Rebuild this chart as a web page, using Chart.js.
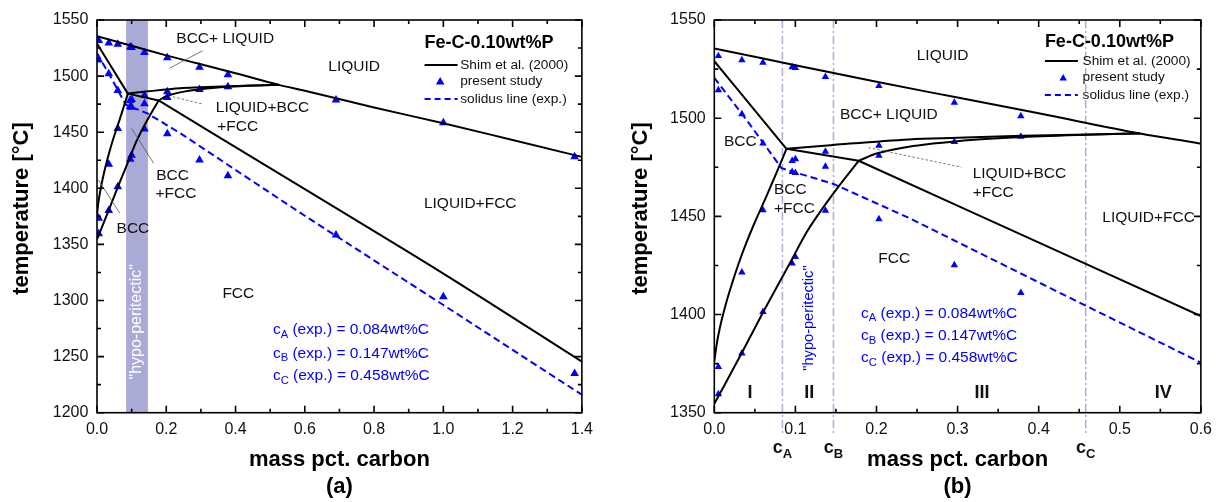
<!DOCTYPE html>
<html>
<head>
<meta charset="utf-8">
<script src="https://cdn.jsdelivr.net/npm/chart.js@4.4.0/dist/chart.umd.min.js"></script>
<style>
  html, body { margin: 0; padding: 0; background: #fff; }
  #wrap { position: relative; width: 1219px; height: 502px; overflow: hidden; }
  #ca { position: absolute; left: 0; top: 0; }
  #cb { position: absolute; left: 600px; top: 0; }
</style>
</head>
<body>
<div id="wrap">
  <canvas id="ca" width="600" height="502"></canvas>
  <canvas id="cb" width="619" height="502"></canvas>
</div>
<script>
// ---------- phase boundaries (mass pct. C, temperature in °C) ----------
const liquidusC = [0, 0.1, 0.2, 0.3, 0.4, 0.525, 0.6, 0.8, 1.0, 1.2, 1.4];
const liquidusT = [1535.5, 1527, 1518.5, 1510.5, 1502.5, 1492.2, 1487, 1472, 1458, 1443, 1428];

const deltaSolidusC = [0, 0.089];
const deltaSolidusT = [1529, 1484.4];

const threePhaseUpperC = [0.089, 0.147, 0.24, 0.30, 0.38, 0.46, 0.525];
const threePhaseUpperT = [1484.4, 1486.4, 1489.2, 1490, 1491, 1491.7, 1492.2];

const threePhaseLowerC = [0.178, 0.2, 0.24, 0.30, 0.38, 0.46, 0.525];
const threePhaseLowerT = [1478.3, 1482, 1485.5, 1488.3, 1490.4, 1491.6, 1492.2];

const peritecticC = [0.089, 0.178];
const peritecticT = [1484.4, 1478.3];

const fccSolidusC = [0.178, 0.6, 1.0, 1.4];
const fccSolidusT = [1478.3, 1399.2, 1324, 1245.5];

const deltaBoundaryC = [0, 0.003, 0.007, 0.014, 0.022, 0.030, 0.039, 0.050, 0.063, 0.076, 0.089];
const deltaBoundaryT = [1376, 1385, 1393.5, 1405, 1416, 1426, 1436, 1447, 1459, 1471.5, 1484.4];

const gammaBoundaryC = [0, 0.034, 0.060, 0.093, 0.114, 0.130, 0.151, 0.178];
const gammaBoundaryT = [1354.5, 1380.5, 1401, 1426, 1442, 1452, 1464, 1478.3];

// experimental solidus
const solidusExpC = [0, 0.04, 0.083, 0.147, 0.241, 0.458, 0.6, 1.0, 1.4];
const solidusExpT = [1520.5, 1499, 1474.5, 1466.5, 1449, 1404.5, 1375.5, 1296, 1216];

// measured transformation temperatures (present study)
const sampleC = [0.005, 0.005, 0.005, 0.005, 0.034, 0.034, 0.034, 0.034,
                 0.060, 0.060, 0.060, 0.060, 0.096, 0.096, 0.096, 0.096,
                 0.100, 0.100, 0.100, 0.100, 0.137, 0.137, 0.137, 0.137,
                 0.203, 0.203, 0.203, 0.203, 0.296, 0.296, 0.296,
                 0.378, 0.378, 0.378, 0.690, 0.690, 1.000, 1.000, 1.379, 1.379];
const sampleT = [1531.7, 1514.3, 1373.4, 1359.5, 1529.6, 1502.1, 1421.5, 1380.2,
                 1528.3, 1487.2, 1453.2, 1401.4, 1526.0, 1478.3, 1472.7, 1426.0,
                 1525.6, 1479.2, 1472.2, 1429.4, 1521.1, 1483.0, 1475.3, 1452.9,
                 1516.4, 1486.0, 1480.9, 1448.6, 1507.9, 1488.0, 1425.2,
                 1501.1, 1490.6, 1411.1, 1478.7, 1358.4, 1458.5, 1303.4, 1428.2, 1235.0];

// characteristic carbon contents
const criticalC = [0.084, 0.147, 0.458];
const criticalName = ['A', 'B', 'C'];

const regionNames = ['I', 'II', 'III', 'IV'];

// ---------- shared drawing helpers ----------
const FONT = "'Liberation Sans', Arial, Helvetica, sans-serif";
const BLUE = '#0000ff';
Chart.defaults.font.family = FONT;

function pts(cs, ts) { return cs.map((c, i) => ({ x: c, y: ts[i] })); }

function curve(label, cs, ts, extra) {
  return Object.assign({
    label, data: pts(cs, ts), showLine: true, pointRadius: 0, pointHoverRadius: 0,
    borderColor: '#000', borderWidth: 2, cubicInterpolationMode: 'monotone', fill: false
  }, extra || {});
}

function datasets(pointR) {
  return [
    curve('liquidus', liquidusC, liquidusT),
    curve('delta solidus', deltaSolidusC, deltaSolidusT),
    curve('L+BCC+FCC upper', threePhaseUpperC, threePhaseUpperT),
    curve('L+BCC+FCC lower', threePhaseLowerC, threePhaseLowerT),
    curve('peritectic', peritecticC, peritecticT),
    curve('FCC solidus', fccSolidusC, fccSolidusT),
    curve('BCC / BCC+FCC', deltaBoundaryC, deltaBoundaryT),
    curve('FCC / BCC+FCC', gammaBoundaryC, gammaBoundaryT),
    curve('solidus line (exp.)', solidusExpC, solidusExpT,
      { borderColor: BLUE, borderDash: [7, 4], cubicInterpolationMode: 'default', tension: 0 }),
    {
      label: 'present study', data: pts(sampleC, sampleT), showLine: false,
      pointStyle: 'triangle', pointRadius: pointR, pointHoverRadius: pointR,
      backgroundColor: BLUE, borderColor: BLUE, borderWidth: 0
    }
  ];
}

// text with optional subscript parts: strings or {sub: 'A'}
function drawRich(ctx, parts, x, y, size, weight, color, align) {
  const mainF = `${weight} ${size}px ${FONT}`;
  const subF = `${weight} ${(size * 0.72).toFixed(1)}px ${FONT}`;
  let total = 0;
  parts.forEach(p => {
    const s = typeof p === 'string' ? p : p.sub;
    ctx.font = typeof p === 'string' ? mainF : subF;
    total += ctx.measureText(s).width;
  });
  let cx = align === 'center' ? x - total / 2 : x;
  ctx.fillStyle = color;
  ctx.textAlign = 'left';
  ctx.textBaseline = 'middle';
  parts.forEach(p => {
    if (typeof p === 'string') {
      ctx.font = mainF; ctx.fillText(p, cx, y); cx += ctx.measureText(p).width;
    } else {
      ctx.font = subF; ctx.fillText(p.sub, cx, y + size * 0.32); cx += ctx.measureText(p.sub).width;
    }
  });
}

function triangle(ctx, x, y, r, color) {
  ctx.beginPath();
  for (let k = 0; k < 3; k++) {
    const a = k * 2 * Math.PI / 3;
    const px = x + Math.sin(a) * r, py = y - Math.cos(a) * r;
    k === 0 ? ctx.moveTo(px, py) : ctx.lineTo(px, py);
  }
  ctx.closePath();
  ctx.fillStyle = color;
  ctx.fill();
}

function criticalParts(i) {
  return ['c', { sub: criticalName[i] }, ' (exp.) = ' + criticalC[i].toFixed(3) + 'wt%C'];
}

// ---------- plugin: band, guides, labels, legend, frame ----------
const phaseDecor = {
  id: 'phaseDecor',
  beforeDatasetsDraw(chart, args, o) {
    const { ctx, chartArea: a, scales: { x, y } } = chart;
    ctx.save();
    if (o.band) {
      const x0 = x.getPixelForValue(criticalC[0]), x1 = x.getPixelForValue(criticalC[1]);
      ctx.fillStyle = o.band.color;
      ctx.fillRect(x0, a.top, x1 - x0, a.bottom - a.top);
    }
    if (o.hypo) {
      ctx.save();
      ctx.translate(x.getPixelForValue(o.hypo.c), y.getPixelForValue(o.hypo.t));
      ctx.rotate(-Math.PI / 2);
      ctx.font = `${o.hypo.size}px ${FONT}`;
      ctx.fillStyle = o.hypo.color;
      ctx.textAlign = 'center';
      ctx.textBaseline = 'middle';
      ctx.fillText('"hypo-peritectic"', 0, 0);
      ctx.restore();
    }
    if (o.guides) {
      ctx.strokeStyle = o.guides.color;
      ctx.lineWidth = 1.5;
      ctx.setLineDash([8, 3, 2, 3]);
      criticalC.forEach(c => {
        const px = x.getPixelForValue(c);
        ctx.beginPath();
        ctx.moveTo(px, a.top);
        ctx.lineTo(px, a.bottom + o.guides.extend);
        ctx.stroke();
      });
      ctx.setLineDash([]);
    }
    ctx.restore();
  },
  afterDatasetsDraw(chart, args, o) {
    const { ctx, chartArea: a, scales: { x, y } } = chart;
    ctx.save();
    // leader lines
    (o.leaders || []).forEach(l => {
      ctx.strokeStyle = '#555';
      ctx.lineWidth = 0.8;
      ctx.setLineDash(l.dash ? [2.5, 2] : []);
      ctx.beginPath();
      ctx.moveTo(x.getPixelForValue(l.from[0]), y.getPixelForValue(l.from[1]));
      ctx.lineTo(x.getPixelForValue(l.to[0]), y.getPixelForValue(l.to[1]));
      ctx.stroke();
    });
    ctx.setLineDash([]);
    // region labels
    ctx.font = `15.5px ${FONT}`;
    ctx.fillStyle = '#111';
    ctx.textAlign = 'left';
    ctx.textBaseline = 'middle';
    (o.labels || []).forEach(l => {
      ctx.fillText(l[0], x.getPixelForValue(l[1]), y.getPixelForValue(l[2]));
    });
    // critical compositions
    if (o.critical) {
      o.critical.t.forEach((t, i) => {
        drawRich(ctx, criticalParts(i), x.getPixelForValue(o.critical.c), y.getPixelForValue(t),
          15.5, 'normal', BLUE, 'left');
      });
    }
    // roman numerals
    if (o.roman) {
      ctx.font = `bold 18px ${FONT}`;
      ctx.fillStyle = '#111';
      ctx.textAlign = 'center';
      regionNames.forEach((n, i) => {
        ctx.fillText(n, x.getPixelForValue(o.roman.c[i]), y.getPixelForValue(o.roman.t));
      });
    }
    // legend
    const L = o.legend;
    const lx = a.right - L.dx;
    ctx.font = `bold 18px ${FONT}`;
    ctx.fillStyle = '#000';
    ctx.textAlign = 'left';
    ctx.fillText('Fe-C-0.10wt%P', lx, a.top + L.titleY);
    ctx.font = `13.7px ${FONT}`;
    ctx.fillStyle = '#111';
    const names = ['Shim et al. (2000)', 'present study', 'solidus line (exp.)'];
    names.forEach((n, i) => ctx.fillText(n, lx + L.textDx, a.top + L.rows[i]));
    ctx.lineWidth = 2;
    ctx.strokeStyle = '#000';
    ctx.beginPath(); ctx.moveTo(lx, a.top + L.rows[0]); ctx.lineTo(lx + 33, a.top + L.rows[0]); ctx.stroke();
    triangle(ctx, lx + L.triDx, a.top + L.rows[1] + 1, L.triR, BLUE);
    ctx.strokeStyle = BLUE;
    ctx.setLineDash([6, 4]);
    ctx.beginPath(); ctx.moveTo(lx, a.top + L.rows[2]); ctx.lineTo(lx + 33, a.top + L.rows[2]); ctx.stroke();
    ctx.setLineDash([]);
    ctx.restore();
  },
  afterDraw(chart, args, o) {
    const { ctx, chartArea: a, scales: { x, y } } = chart;
    ctx.save();
    ctx.strokeStyle = '#000';
    ctx.lineWidth = 1.6;
    ctx.strokeRect(a.left, a.top, a.right - a.left, a.bottom - a.top);
    ctx.beginPath();
    const xs = x.options.ticks.stepSize / 2, ys = y.options.ticks.stepSize / 2;
    const nx = Math.round((x.max - x.min) / xs), ny = Math.round((y.max - y.min) / ys);
    for (let i = 0; i <= nx; i++) {
      const px = x.getPixelForValue(x.min + i * xs), len = i % 2 === 0 ? 7 : 4;
      ctx.moveTo(px, a.bottom); ctx.lineTo(px, a.bottom - len);
      ctx.moveTo(px, a.top); ctx.lineTo(px, a.top + len);
    }
    for (let i = 0; i <= ny; i++) {
      const py = y.getPixelForValue(y.min + i * ys), len = i % 2 === 0 ? 7 : 4;
      ctx.moveTo(a.left, py); ctx.lineTo(a.left + len, py);
      ctx.moveTo(a.right, py); ctx.lineTo(a.right - len, py);
    }
    ctx.stroke();
    // vertical axis title, set slightly above the plot's mid-height
    ctx.save();
    ctx.translate(o.yTitleX, a.top + (a.bottom - a.top) * 0.48);
    ctx.rotate(-Math.PI / 2);
    ctx.font = `bold 22px ${FONT}`;
    ctx.fillStyle = '#000';
    ctx.textAlign = 'center';
    ctx.textBaseline = 'middle';
    ctx.fillText(y.options.title.text, 0, 0);
    ctx.restore();
    // composition markers under the axis
    if (o.guides) {
      criticalC.forEach((c, i) => {
        drawRich(ctx, ['c', { sub: criticalName[i] }], x.getPixelForValue(c), a.bottom + 35.6,
          18, 'bold', '#111', 'center');
      });
    }
    // panel tag
    ctx.font = `bold 22px ${FONT}`;
    ctx.fillStyle = '#000';
    ctx.textAlign = 'center';
    ctx.textBaseline = 'middle';
    ctx.fillText(o.tag, (a.left + a.right) / 2, a.bottom + 74.5);
    ctx.restore();
  }
};

function scales(xMax, xStep, yMin, yAxisWidth) {
  return {
    x: {
      type: 'linear', min: 0, max: xMax,
      grid: { display: false, drawTicks: false }, border: { display: false },
      ticks: { stepSize: xStep, padding: 7, color: '#111', font: { size: 16 },
               maxRotation: 0, autoSkip: false, callback: v => Number(v).toFixed(1) },
      title: { display: true, text: 'mass pct. carbon', color: '#000',
               font: { size: 22, weight: 'bold' }, padding: { top: 0, bottom: 28.8 } },
      afterFit(s) { s.height = 89.3; }
    },
    y: {
      type: 'linear', min: yMin, max: 1550,
      grid: { display: false, drawTicks: false }, border: { display: false },
      ticks: { stepSize: 50, padding: 8.6, color: '#111', font: { size: 16 },
               callback: v => String(Math.round(v)) },
      // drawn by phaseDecor so it can sit a little above centre
      title: { display: false, text: 'temperature [°C]' },
      afterFit(s) { s.width = yAxisWidth; }
    }
  };
}

// ---------- (a) full range ----------
new Chart(document.getElementById('ca'), {
  type: 'scatter',
  data: { datasets: datasets(5) },
  options: {
    responsive: false, animation: false, devicePixelRatio: 1,
    layout: { padding: { left: 0, top: 20, right: 15, bottom: 0 } },
    scales: scales(1.4, 0.2, 1200, 97),
    plugins: {
      legend: { display: false }, tooltip: { enabled: false },
      phaseDecor: {
        tag: '(a)',
        yTitleX: 22,
        band: { color: 'rgb(170,170,214)' },
        hypo: { c: 0.1155, t: 1281, size: 16, color: '#ffffff' },
        labels: [
          ['BCC+ LIQUID', 0.229, 1533.1],
          ['LIQUID+BCC', 0.343, 1472.2],
          ['+FCC', 0.347, 1454.9],
          ['BCC', 0.171, 1411.2],
          ['+FCC', 0.169, 1395.5],
          ['BCC', 0.0565, 1364.3],
          ['LIQUID', 0.668, 1508.4],
          ['LIQUID+FCC', 0.944, 1386],
          ['FCC', 0.362, 1306.4]
        ],
        leaders: [
          { from: [0.209, 1507], to: [0.305, 1522.6] },
          { from: [0.219, 1481.6], to: [0.305, 1475.1], dash: true },
          { from: [0.0995, 1453.5], to: [0.1635, 1422.3] },
          { from: [0.004, 1407.4], to: [0.066, 1377.7] }
        ],
        critical: { c: 0.508, t: [1273.7, 1252.9, 1233] },
        legend: { dx: 157.3, titleY: 23.3, rows: [45, 61, 79], textDx: 35.6, triDx: 15.6, triR: 5 }
      }
    }
  },
  plugins: [phaseDecor]
});

// ---------- (b) peritectic range ----------
new Chart(document.getElementById('cb'), {
  type: 'scatter',
  data: { datasets: datasets(4.3) },
  options: {
    responsive: false, animation: false, devicePixelRatio: 1,
    layout: { padding: { left: 0, top: 20, right: 18, bottom: 0 } },
    scales: scales(0.6, 0.1, 1350, 114.3),
    plugins: {
      legend: { display: false }, tooltip: { enabled: false },
      phaseDecor: {
        tag: '(b)',
        yTitleX: 41,
        guides: { color: 'rgb(170,170,222)', extend: 23 },
        hypo: { c: 0.117, t: 1398.2, size: 14.6, color: BLUE },
        labels: [
          ['LIQUID', 0.2496, 1531.7],
          ['BCC+ LIQUID', 0.155, 1502],
          ['LIQUID+BCC', 0.3186, 1471.9],
          ['+FCC', 0.3186, 1462],
          ['LIQUID+FCC', 0.4784, 1449.5],
          ['BCC', 0.012, 1488],
          ['BCC', 0.0736, 1463.8],
          ['+FCC', 0.0736, 1453.7],
          ['FCC', 0.2022, 1428.6]
        ],
        leaders: [
          { from: [0.19, 1485], to: [0.305, 1475], dash: true }
        ],
        critical: { c: 0.181, t: [1400.6, 1389.2, 1378] },
        roman: { c: [0.044, 0.117, 0.33, 0.5536], t: 1359.8 },
        legend: { dx: 156, titleY: 21.7, rows: [41, 57.3, 75], textDx: 37.7, triDx: 18.3, triR: 4.3 }
      }
    }
  },
  plugins: [phaseDecor]
});
</script>
</body>
</html>
